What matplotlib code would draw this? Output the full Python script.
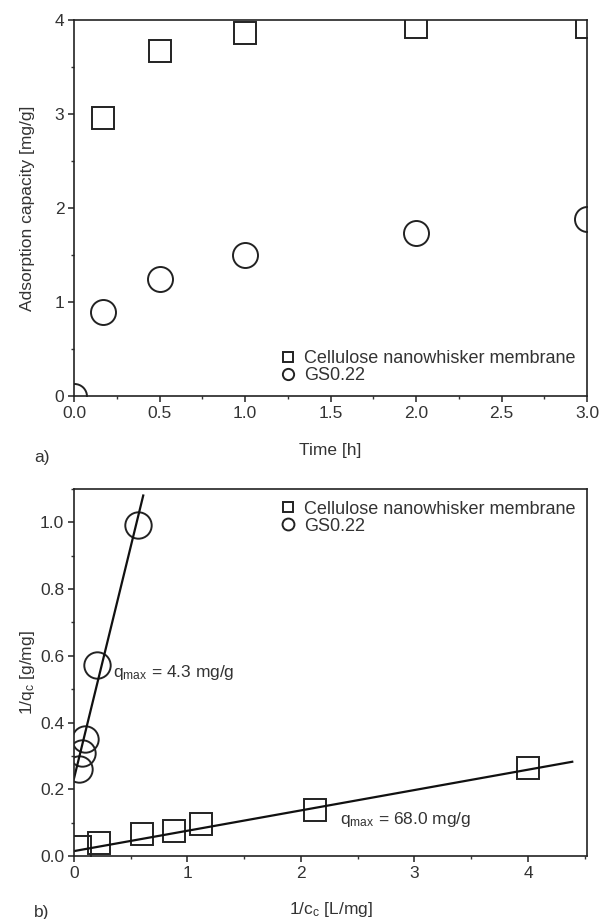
import numpy as np
import matplotlib.pyplot as plt
from matplotlib.ticker import MultipleLocator

# ---- data (a) kinetics ----
time_cnw = [0.167, 0.5, 1.0, 2.0, 3.0]
q_cnw = [2.96, 3.67, 3.86, 3.93, 3.93]
time_gs = [0.0, 0.167, 0.5, 1.0, 2.0, 3.0]
q_gs = [0.0, 0.89, 1.25, 1.50, 1.73, 1.88]

# ---- data (b) Langmuir linearisation ----
inv_c_cnw = [0.05, 0.22, 0.60, 0.88, 1.12, 2.12, 4.0]
inv_q_cnw = [0.027, 0.040, 0.067, 0.074, 0.095, 0.137, 0.263]
inv_c_gs = [0.04, 0.07, 0.10, 0.20, 0.56]
inv_q_gs = [0.262, 0.31, 0.352, 0.572, 0.993]

qmax_cnw = 68.0
qmax_gs = 4.3
slope_cnw = 0.061
slope_gs = 1.39
fit_x_cnw = [0.0, 4.39]
fit_x_gs = [0.0, 0.61]

txt = "#333333"
fs = 12.5
plt.rcParams['font.family'] = ['Liberation Sans', 'DejaVu Sans']
plt.rcParams['mathtext.fontset'] = 'custom'
plt.rcParams['mathtext.rm'] = 'Liberation Sans'
plt.rcParams['mathtext.it'] = 'Liberation Sans:italic'
plt.rcParams['text.color'] = txt
plt.rcParams['axes.labelcolor'] = txt
plt.rcParams['xtick.color'] = txt
plt.rcParams['ytick.color'] = txt

fig = plt.figure(figsize=(6.02, 9.19), dpi=100)
W, H = 602, 919
ax1 = fig.add_axes([74 / W, 1 - 396 / H, (587 - 74) / W, (396 - 20) / H])
ax2 = fig.add_axes([74 / W, 1 - 856 / H, (587 - 74) / W, (856 - 489) / H])

mk = dict(linestyle='none', markerfacecolor='none', markeredgecolor='#222222',
          markeredgewidth=1.4)
leg_kw = dict(frameon=False, fontsize=13, markerscale=0.45, handlelength=0.8,
              handletextpad=0.5, labelspacing=0.0, borderaxespad=0.25)

# ---- panel a ----
ax1.plot(time_cnw, q_cnw, marker='s', markersize=16, label='Cellulose nanowhisker membrane', **mk)
ax1.plot(time_gs, q_gs, marker='o', markersize=18, label='GS0.22', **mk)
ax1.set_xlim(0, 3)
ax1.set_ylim(0, 4)
ax1.xaxis.set_major_locator(MultipleLocator(0.5))
ax1.xaxis.set_minor_locator(MultipleLocator(0.25))
ax1.yaxis.set_major_locator(MultipleLocator(1))
ax1.yaxis.set_minor_locator(MultipleLocator(0.5))
ax1.xaxis.set_major_formatter(plt.FormatStrFormatter('%.1f'))
ax1.set_xlabel('Time [h]', fontsize=fs, labelpad=16)
ax1.set_ylabel('Adsorption capacity [mg/g]', fontsize=fs, labelpad=14)
ax1.legend(loc='lower right', **leg_kw)

# ---- panel b ----
ax2.plot(inv_c_cnw, inv_q_cnw, marker='s', markersize=16, label='Cellulose nanowhisker membrane', **mk)
ax2.plot(inv_c_gs, inv_q_gs, marker='o', markersize=19, label='GS0.22', **mk)
fx = np.array(fit_x_cnw)
ax2.plot(fx, 1 / qmax_cnw + slope_cnw * fx, color='#111111', lw=1.6)
fx = np.array(fit_x_gs)
ax2.plot(fx, 1 / qmax_gs + slope_gs * fx, color='#111111', lw=1.6)
ax2.text(0.34, 0.55, r'q$_{\rm max}$ = 4.3 mg/g', fontsize=fs, va='center')
ax2.text(2.34, 0.108, r'q$_{\rm max}$ = 68.0 mg/g', fontsize=fs, va='center')
ax2.set_xlim(0, 4.52)
ax2.set_ylim(0, 1.1)
ax2.xaxis.set_major_locator(MultipleLocator(1))
ax2.xaxis.set_minor_locator(MultipleLocator(0.5))
ax2.yaxis.set_major_locator(MultipleLocator(0.2))
ax2.yaxis.set_minor_locator(MultipleLocator(0.1))
ax2.yaxis.set_major_formatter(plt.FormatStrFormatter('%.1f'))
ax2.set_xlabel(r'1/c$_{\rm c}$ [L/mg]', fontsize=fs, labelpad=14)
ax2.set_ylabel(r'1/q$_{\rm c}$ [g/mg]', fontsize=fs, labelpad=2)
ax2.legend(loc='upper right', **leg_kw)

for ax in (ax1, ax2):
    for s in ax.spines.values():
        s.set_linewidth(1.2)
        s.set_color('#222222')
    ax.tick_params(which='major', direction='out', length=4, width=1.2, labelsize=fs, pad=3)
    ax.tick_params(which='minor', direction='out', length=2, width=1.0)

fig.text(34 / W, 1 - 457 / H, 'a)', fontsize=fs, va='center')
fig.text(34 / W, 1 - 912 / H, 'b)', fontsize=fs, va='center')

fig.savefig('out.png', dpi=100, facecolor='white')
